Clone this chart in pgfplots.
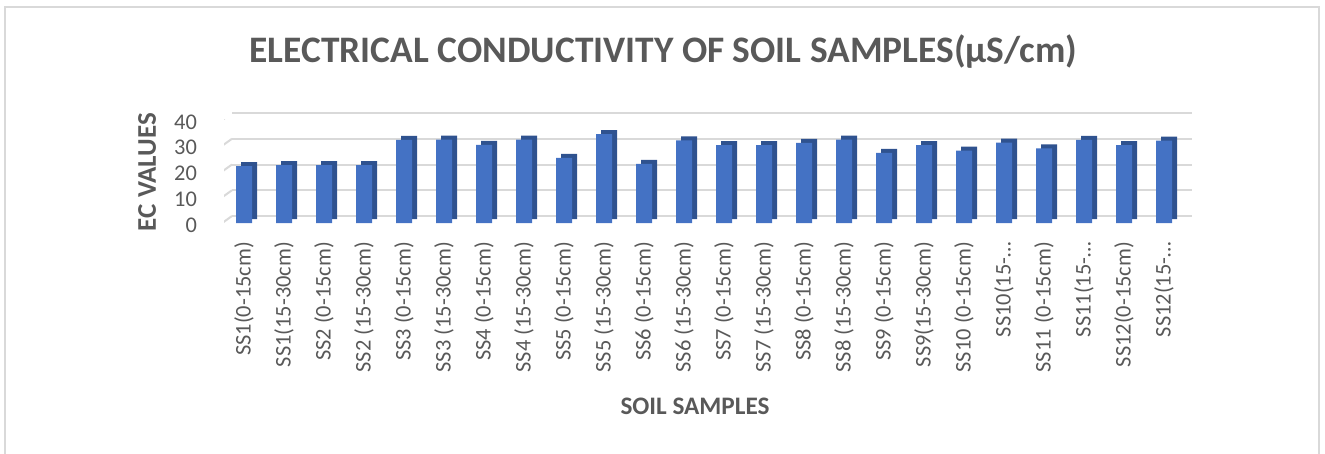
\documentclass[border=0pt]{standalone}
\usepackage{fontspec}
\setmainfont{Carlito}
\usepackage{pgfplots}
\usepackage{pgfplotstable}
\pgfplotsset{compat=1.18}

\definecolor{txt}{HTML}{595959}
\definecolor{barfront}{HTML}{4472C4}
\definecolor{barside}{HTML}{2F528F}
\definecolor{gridc}{HTML}{D9D9D9}

% EC values (uS/cm)
\pgfplotstableread{
x ec
0 22.1
1 22.5
2 22.5
3 22.5
4 32.3
5 32.4
6 30.3
7 32.4
8 25.3
9 34.5
10 23.0
11 32.1
12 30.2
13 30.2
14 31.1
15 32.4
16 27.2
17 30.2
18 28.1
19 31.2
20 29.0
21 32.3
22 30.2
23 32.0
}\ecdata

\begin{document}
\begin{tikzpicture}
  \path[use as bounding box] (0,0) rectangle (662.5pt,-227pt);
  \draw[gridc, line width=1pt] (2.5pt,-240pt) -- (2.5pt,-3.5pt) -- (659.5pt,-3.5pt) -- (659.5pt,-240pt);
  \begin{axis}[
      at={(112pt,-111.5pt)}, anchor=south west,
      scale only axis, width=480pt, height=51.5pt,
      xmin=-0.5, xmax=23.5, ymin=0, ymax=40,
      ytick={0,10,20,30,40},
      xtick=data,
      xticklabels={{SS1(0-15cm)},{SS1(15-30cm)},{SS2 (0-15cm)},{SS2 (15-30cm)},
        {SS3 (0-15cm)},{SS3 (15-30cm)},{SS4 (0-15cm)},{SS4 (15-30cm)},
        {SS5 (0-15cm)},{SS5 (15-30cm)},{SS6 (0-15cm)},{SS6 (15-30cm)},
        {SS7 (0-15cm)},{SS7 (15-30cm)},{SS8 (0-15cm)},{SS8 (15-30cm)},
        {SS9 (0-15cm)},{SS9(15-30cm)},{SS10 (0-15cm)},{SS10(15-…},
        {SS11 (0-15cm)},{SS11(15-…},{SS12(0-15cm)},{SS12(15-…}},
      axis line style={draw=none},
      major tick length=0pt,
      ymajorgrids,
      major grid style={gridc, line width=1pt, xshift=4pt, yshift=3.5pt},
      /pgf/number format/assume math mode=true,
      tick label style={font=\fontsize{11.2}{12}\selectfont, text=txt},
      yticklabel style={anchor=east, xshift=-10pt, yshift=-1pt},
      xticklabel style={yshift=-6pt, rotate=90, anchor=east},
      title={ELECTRICAL CONDUCTIVITY OF SOIL SAMPLES(µS/cm)},
      title style={at={(axis description cs:0.4578,1.545)}, anchor=center,
        font=\bfseries\fontsize{18.7}{21}\selectfont, text=txt},
      xlabel={SOIL SAMPLES},
      xlabel style={at={(axis description cs:0.4906,-1.777)}, anchor=center,
        font=\bfseries\fontsize{12.6}{14}\selectfont, text=txt},
      ylabel={EC VALUES},
      ylabel style={at={(axis description cs:-0.0802,0.495)}, anchor=center,
        rotate=0, font=\bfseries\fontsize{13.5}{15}\selectfont, text=txt},
      ybar, bar width=8pt,
    ]
    \pgfplotsinvokeforeach{0,10,20,30,40}{
      \draw[gridc, line width=1pt] ([xshift=-3pt,yshift=-1.5pt]axis cs:-0.5,#1)
        -- ([xshift=4pt,yshift=3.5pt]axis cs:-0.5,#1);
    }
    \addplot[fill=barside, draw=none, bar shift=0pt, xshift=2.5pt, yshift=2pt]
      table[x=x, y=ec] {\ecdata};
    \addplot[fill=barfront, draw=none, bar shift=0pt]
      table[x=x, y=ec] {\ecdata};
  \end{axis}
\end{tikzpicture}
\end{document}
